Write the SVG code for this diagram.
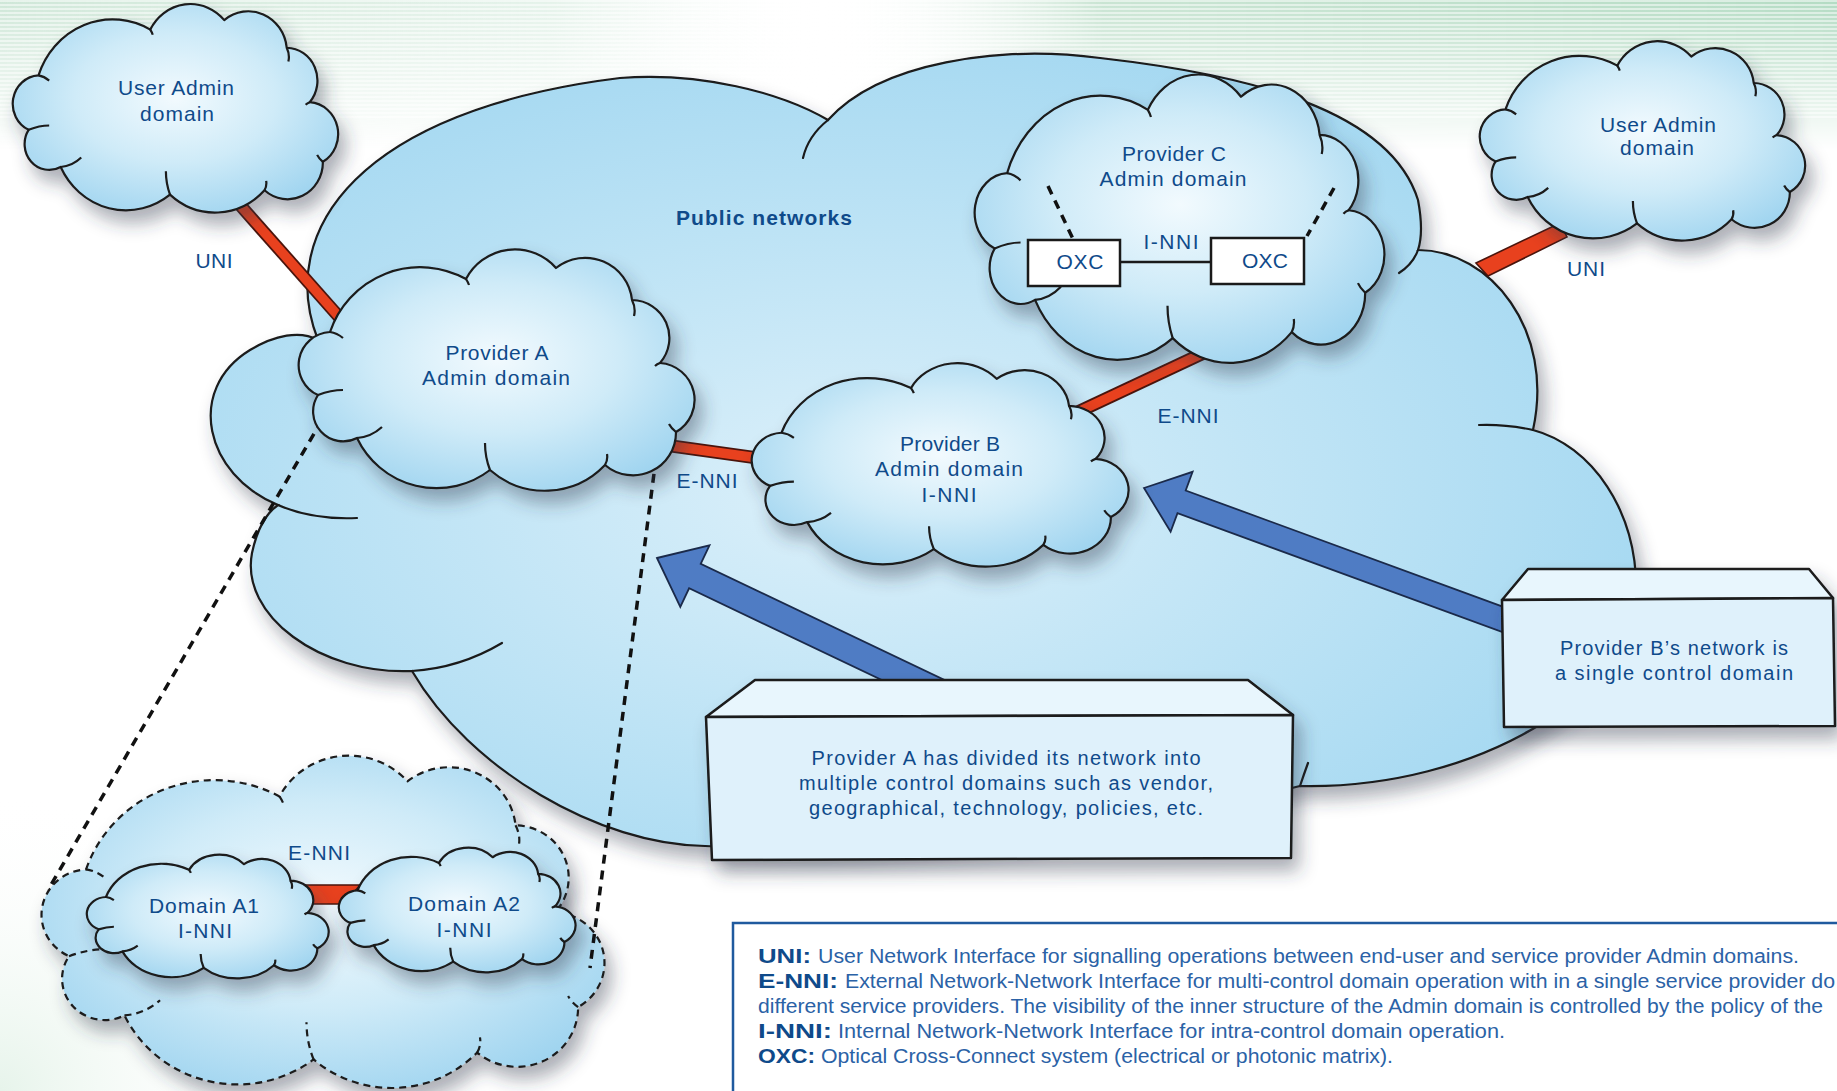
<svg xmlns="http://www.w3.org/2000/svg" xmlns:xlink="http://www.w3.org/1999/xlink" width="1837" height="1091" viewBox="0 0 1837 1091">
<defs>
<style>
.cloud{fill:url(#cg);stroke:#1a1a1a;stroke-width:2.2;stroke-linejoin:round}
.big{fill:url(#bg);stroke:#1a1a1a;stroke-width:2.2}
.dashc{stroke-dasharray:7 5}
.tick{fill:none;stroke:#1a1a1a;stroke-width:2.2;stroke-linecap:round}
.t{font-family:"Liberation Sans",Arial,sans-serif;font-size:21px;fill:#0f4a8a;text-anchor:middle}
.b{font-weight:bold}
.lg{font-family:"Liberation Sans",Arial,sans-serif;font-size:19.5px;fill:#2b62a6}
.lgb{font-family:"Liberation Sans",Arial,sans-serif;font-size:20px;font-weight:bold;fill:#0f4a8a}
.ro{stroke:#4a140c;stroke-width:13;fill:none}
.rd{stroke:#e8411e;stroke-width:9.5;fill:none}
.dash{stroke:#111;stroke-width:3.5;stroke-dasharray:9 7;fill:none}
.arrow{fill:#4f7cc4;stroke:#1b2a4a;stroke-width:1.8;stroke-linejoin:miter}
.box{fill:#dff1fb;stroke:#1a1a1a;stroke-width:2.5;stroke-linejoin:round}
.boxtop{fill:#e8f6fd;stroke:#1a1a1a;stroke-width:2.5;stroke-linejoin:round}
.oxc{fill:#ffffff;stroke:#1a1a1a;stroke-width:2.5}
</style>
<radialGradient id="cg" cx="0.5" cy="0.45" r="0.62">
<stop offset="0" stop-color="#f2fafe"/>
<stop offset="0.5" stop-color="#cfebf8"/>
<stop offset="1" stop-color="#9dd3ef"/>
</radialGradient>
<radialGradient id="bg" cx="0.45" cy="0.55" r="0.6">
<stop offset="0" stop-color="#dcf0fa"/>
<stop offset="0.55" stop-color="#bde3f5"/>
<stop offset="1" stop-color="#a4d8f1"/>
</radialGradient>
<linearGradient id="hgreen" x1="0" y1="0" x2="1" y2="0">
<stop offset="0" stop-color="#c9e4d3" stop-opacity="0.9"/>
<stop offset="0.3" stop-color="#d3eadc" stop-opacity="0.6"/>
<stop offset="0.45" stop-color="#ffffff" stop-opacity="0"/>
<stop offset="0.6" stop-color="#c2e1cd" stop-opacity="0.9"/>
<stop offset="1" stop-color="#b3dbc3" stop-opacity="1"/>
</linearGradient>
<linearGradient id="vfade" x1="0" y1="0" x2="0" y2="1">
<stop offset="0" stop-color="#fff"/>
<stop offset="1" stop-color="#000"/>
</linearGradient>
<mask id="topMask"><rect x="0" y="0" width="1837" height="150" fill="url(#vfade)"/></mask>
<pattern id="stripes" width="8" height="4" patternUnits="userSpaceOnUse"><rect width="8" height="2" fill="#ffffff" opacity="0.5"/></pattern>
<radialGradient id="blgreen" cx="0" cy="1" r="1">
<stop offset="0" stop-color="#dcefe2" stop-opacity="0.7"/>
<stop offset="1" stop-color="#ffffff" stop-opacity="0"/>
</radialGradient>
<filter id="sh" x="-15%" y="-15%" width="140%" height="145%">
<feDropShadow dx="7" dy="12" stdDeviation="9" flood-color="#2d3b48" flood-opacity="0.4"/>
</filter>
<g id="cloudT">
<path vector-effect="non-scaling-stroke" d="M31,78 A95,95 0 0,1 167,25 A55,55 0 0,1 257,14 A47,47 0 0,1 333,46 A38,38 0 0,1 361,109 A37,37 0 0,1 377,178 A43,43 0 0,1 306,211 A83,83 0 0,1 191,216 A88,88 0 0,1 58,184 A30,30 0 0,1 19,141 A33,33 0 0,1 31,78 Z"/>
<path vector-effect="non-scaling-stroke" fill="none" d="M191,216 Q186,203 186,189 M58,184 Q72,183 83,173 M19,141 Q32,136 44,136 M333,46 Q337,54 335,62 M306,211 Q309,206 308,200 M377,178 Q372,174 370,170 M167,25 Q169,28 170,31 M361,109 Q358,110 356,112 M31,78 Q38,79 44,84"/>
</g>
</defs>

<g id="background">
<rect x="0" y="0" width="1837" height="1091" fill="#ffffff"/>
<rect x="0" y="0" width="1837" height="150" fill="url(#hgreen)" mask="url(#topMask)"/>
<rect x="0" y="0" width="1837" height="120" fill="url(#stripes)"/>
<rect x="0" y="791" width="300" height="300" fill="url(#blgreen)"/>
</g>

<g id="public-networks">
<g filter="url(#sh)">
<path class="big" d="M318,340 C275,230 360,110 620,78 C700,72 780,92 828,120 C880,62 1000,45 1100,58 C1250,75 1390,110 1418,200 Q1424,232 1418,250 C1490,250 1555,330 1533,430 C1590,445 1640,510 1636,600 C1632,690 1480,790 1300,786 Q1000,862 705,846 C600,845 470,770 412,671 C320,675 240,615 252,553 C258,525 268,512 278,505 C205,475 185,390 250,350 C275,335 300,330 318,340 Z"/>
</g>
<path class="tick" d="M828,120 Q808,136 803,158 M1418,250 Q1413,264 1399,273 M1533,430 Q1505,424 1479,425 M1300,786 Q1304,774 1308,763 M412,671 Q460,668 502,643 M278,505 Q312,520 357,518"/>
<text class="t b" x="676" y="225" style="text-anchor:start" textLength="176">Public networks</text>
</g>

<g id="provider-a-detail">
<g filter="url(#sh)"><use xlink:href="#cloudT" href="#cloudT" class="cloud dashc" transform="translate(42,762) scale(1.422,1.377)"/></g>
</g>

<g id="connectors">
<path class="ro" d="M240,205 L340,318"/><path class="rd" d="M240,205 L340,318"/>
<path class="ro" d="M650,443 L765,459"/><path class="rd" d="M650,443 L765,459"/>
<path class="ro" d="M1065,418 L1210,350"/><path class="rd" d="M1065,418 L1210,350"/>
<polygon points="1476,263 1560,223 1567,237 1488,276" fill="#e8411e" stroke="#4a140c" stroke-width="1.6"/>
<polygon points="290,885 360,885 344,904 311,904" fill="#e8411e" stroke="#4a140c" stroke-width="1.6"/>
<path class="dash" d="M322,420 L48,890"/>
<path class="dash" d="M656,458 L590,968"/>
<polygon class="arrow" points="657,558 709.5,545.4 700.7,563.9 951.8,683.4 940.2,707.8 689.1,588.3 680.3,606.8"/>
<polygon class="arrow" points="1144,488 1192.6,471.8 1185.7,490.5 1523.7,614.3 1515.5,636.9 1177.5,513.1 1170.6,531.8"/>
<text class="t" x="214" y="268" textLength="37">UNI</text>
<text class="t" x="1586" y="276" textLength="38">UNI</text>
<text class="t" x="707" y="488" textLength="61">E-NNI</text>
<text class="t" x="1188" y="423" textLength="61">E-NNI</text>
<text class="t" x="319" y="860" textLength="62">E-NNI</text>
</g>

<g id="user-admin-left">
<g filter="url(#sh)"><use xlink:href="#cloudT" href="#cloudT" class="cloud" transform="translate(13,8) scale(0.822,0.864)"/></g>
<text class="t" x="176" y="95" textLength="116">User Admin</text>
<text class="t" x="177" y="121" textLength="74">domain</text>
</g>

<g id="user-admin-right">
<g filter="url(#sh)"><use xlink:href="#cloudT" href="#cloudT" class="cloud" transform="translate(1480,45) scale(0.822,0.826)"/></g>
<text class="t" x="1658" y="132" textLength="116">User Admin</text>
<text class="t" x="1657" y="155" textLength="74">domain</text>
</g>

<g id="provider-a">
<g filter="url(#sh)"><use xlink:href="#cloudT" href="#cloudT" class="cloud" transform="translate(299,254)"/></g>
<text class="t" x="497" y="360" textLength="103">Provider A</text>
<text class="t" x="496" y="385" textLength="148">Admin domain</text>
</g>

<g id="provider-b">
<g filter="url(#sh)"><use xlink:href="#cloudT" href="#cloudT" class="cloud" transform="translate(752,367) scale(0.952,0.843)"/></g>
<text class="t" x="950" y="451" textLength="100">Provider B</text>
<text class="t" x="949" y="476" textLength="148">Admin domain</text>
<text class="t" x="949" y="502" textLength="55">I-NNI</text>
</g>

<g id="provider-c">
<g filter="url(#sh)"><use xlink:href="#cloudT" href="#cloudT" class="cloud" transform="translate(975,80) scale(1.035,1.195)"/></g>
<text class="t" x="1174" y="161" textLength="104">Provider C</text>
<text class="t" x="1173" y="186" textLength="147">Admin domain</text>
<g id="provider-c-links">
<path d="M1120,262 L1211,262" stroke="#1a1a1a" stroke-width="2.5"/>
<path class="dash" d="M1048,186 L1073,239"/>
<path class="dash" d="M1334,188 L1307,236"/>
<text class="t" x="1171" y="249" textLength="55">I-NNI</text>
</g>
</g>

<g id="oxc-left">
<rect class="oxc" x="1028" y="240" width="92" height="46"/>
<text class="t" x="1080" y="269" textLength="47">OXC</text>
</g>
<g id="oxc-right">
<rect class="oxc" x="1211" y="238" width="93" height="46"/>
<text class="t" x="1265" y="268" textLength="46">OXC</text>
</g>

<g id="domain-a1">
<g filter="url(#sh)"><use xlink:href="#cloudT" href="#cloudT" class="cloud" transform="translate(87,857) scale(0.611,0.513)"/></g>
<text class="t" x="204" y="913" textLength="110">Domain A1</text>
<text class="t" x="205" y="938" textLength="54">I-NNI</text>
</g>

<g id="domain-a2">
<g filter="url(#sh)"><use xlink:href="#cloudT" href="#cloudT" class="cloud" transform="translate(339,850) scale(0.598,0.517)"/></g>
<text class="t" x="464" y="911" textLength="112">Domain A2</text>
<text class="t" x="464" y="937" textLength="55">I-NNI</text>
</g>

<g id="note-a">
<g filter="url(#sh)">
<polygon class="boxtop" points="706,717 755,680 1248,680 1293,715"/>
<polygon class="box" points="706,717 1293,715 1291,858 712,860"/>
</g>
<text class="t" x="1006" y="765" style="font-size:20px" textLength="389">Provider A has divided its network into</text>
<text class="t" x="1006" y="790" style="font-size:20px" textLength="414">multiple control domains such as vendor,</text>
<text class="t" x="1006" y="815" style="font-size:20px" textLength="394">geographical, technology, policies, etc.</text>
</g>

<g id="note-b">
<g filter="url(#sh)">
<polygon class="boxtop" points="1502,600 1528,569 1809,569 1833,598"/>
<polygon class="box" points="1502,600 1833,598 1835,726 1504,727"/>
</g>
<text class="t" x="1674" y="655" style="font-size:20px" textLength="228">Provider B’s network is</text>
<text class="t" x="1674" y="680" style="font-size:20px" textLength="238">a single control domain</text>
</g>

<g id="legend">
<rect x="733" y="923" width="1104" height="168" fill="#ffffff"/>
<path d="M733,1091 L733,923 L1837,923" fill="none" stroke="#1f5a9e" stroke-width="2.5"/>
<text class="lgb" x="758" y="963" textLength="53" lengthAdjust="spacingAndGlyphs">UNI:</text>
<text class="lg" x="818" y="963" textLength="981" lengthAdjust="spacingAndGlyphs">User Network Interface for signalling operations between end-user and service provider Admin domains.</text>
<text class="lgb" x="758" y="988" textLength="80" lengthAdjust="spacingAndGlyphs">E-NNI:</text>
<text class="lg" x="845" y="988" textLength="990" lengthAdjust="spacingAndGlyphs">External Network-Network Interface for multi-control domain operation with in a single service provider do</text>
<text class="lg" x="758" y="1013" textLength="1065" lengthAdjust="spacingAndGlyphs">different service providers. The visibility of the inner structure of the Admin domain is controlled by the policy of the</text>
<text class="lgb" x="758" y="1038" textLength="74" lengthAdjust="spacingAndGlyphs">I-NNI:</text>
<text class="lg" x="838" y="1038" textLength="667" lengthAdjust="spacingAndGlyphs">Internal Network-Network Interface for intra-control domain operation.</text>
<text class="lgb" x="758" y="1063" textLength="57" lengthAdjust="spacingAndGlyphs">OXC:</text>
<text class="lg" x="821" y="1063" textLength="572" lengthAdjust="spacingAndGlyphs">Optical Cross-Connect system (electrical or photonic matrix).</text>
</g>
</svg>
